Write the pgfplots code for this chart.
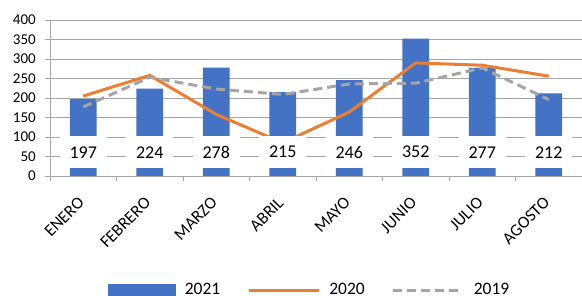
\documentclass[border=0pt]{standalone}
\usepackage{pgfplots}
\usepackage{pgfplotstable}
\pgfplotsset{compat=1.18}
\usepackage{fontspec}
\setmainfont{Carlito}
\definecolor{cbar}{HTML}{4472C4}
\definecolor{corange}{HTML}{ED7D31}
\definecolor{cgray}{HTML}{A5A5A5}
\definecolor{cgrid}{HTML}{A6A6A6}
\pgfplotstableread{
x v2021 v2020 v2019 lab
0 197 205 177 61
1 224 258 253 61
2 278 158 223 61
3 215 85 209 61
4 246 164 236 61
5 352 290 238 61
6 277 284 277 61
7 212 256 196 61
}\datatable
\begin{document}
\begin{tikzpicture}
\useasboundingbox (-50pt,-120pt) rectangle (532pt,176pt);
\begin{axis}[
  at={(0,0)}, anchor=south west,
  scale only axis, width=532pt, height=156pt,
  xmin=-0.5, xmax=7.5, ymin=0, ymax=400,
  axis x line=bottom, axis y line=left,
  axis line style={draw=cgrid, line width=0.8pt, -},
  ytick={0,50,...,400},
  ymajorgrids, grid style={draw=cgrid, line width=0.8pt},
  xtick={0,...,7},
  xticklabels={ENERO,FEBRERO,MARZO,ABRIL,MAYO,JUNIO,JULIO,AGOSTO},
  minor xtick={-0.5,0.5,...,7.5},
  tick align=outside,
  x tick style={draw=none},
  minor x tick style={draw=cgrid, line width=0.8pt},
  minor tick length=5pt,
  y tick style={draw=cgrid, line width=0.8pt},
  major tick length=5pt,
  /pgf/number format/assume math mode=true,
  yticklabel style={font=\fontsize{15}{15}\selectfont, inner sep=1pt, xshift=-8pt},
  xticklabel style={font=\fontsize{17}{17}\selectfont, xshift=-2pt, yshift=-19pt, rotate=45, anchor=east, inner sep=0pt},
  legend columns=3,
  legend style={at={(0.487,-0.731)}, anchor=center, draw=none, fill=none,
    font=\fontsize{17.5}{17.5}\selectfont,
    /tikz/every odd column/.append style={column sep=8pt},
    /tikz/every even column/.append style={column sep=26pt},
    nodes={inner sep=1pt}},
  legend cell align=left,
]
\addplot[ybar, bar width=26.7pt, fill=cbar, draw=none,
  legend image code/.code={\fill[cbar] (0pt,-6pt) rectangle (68pt,6pt);}]
  table[x=x, y=v2021] {\datatable};
\addlegendentry{2021}
\addplot[corange, line width=3pt, mark=none,
  legend image code/.code={\draw[corange, line width=3pt] (0pt,0pt) -- (70pt,0pt);}]
  table[x=x, y=v2020] {\datatable};
\addlegendentry{2020}
\addplot[cgray, line width=3pt, mark=none, dash pattern=on 9pt off 5pt,
  legend image code/.code={\draw[cgray, line width=3pt, dash pattern=on 9pt off 5pt] (0pt,0pt) -- (70pt,0pt);}]
  table[x=x, y=v2019] {\datatable};
\addlegendentry{2019}
\addplot[only marks, mark=*, mark size=0.01pt, mark options={draw=none, fill=none},
  point meta=explicit, forget plot,
  nodes near coords={\pgfmathprintnumber{\pgfplotspointmeta}},
  every node near coord/.append style={anchor=center, fill=white, minimum width=46.7pt,
    minimum height=32pt, inner sep=0pt, text=black, font=\fontsize{18}{18}\selectfont,
    /pgf/number format/assume math mode=true}]
  table[x=x, y=lab, meta=v2021] {\datatable};
\end{axis}
\end{tikzpicture}
\end{document}
